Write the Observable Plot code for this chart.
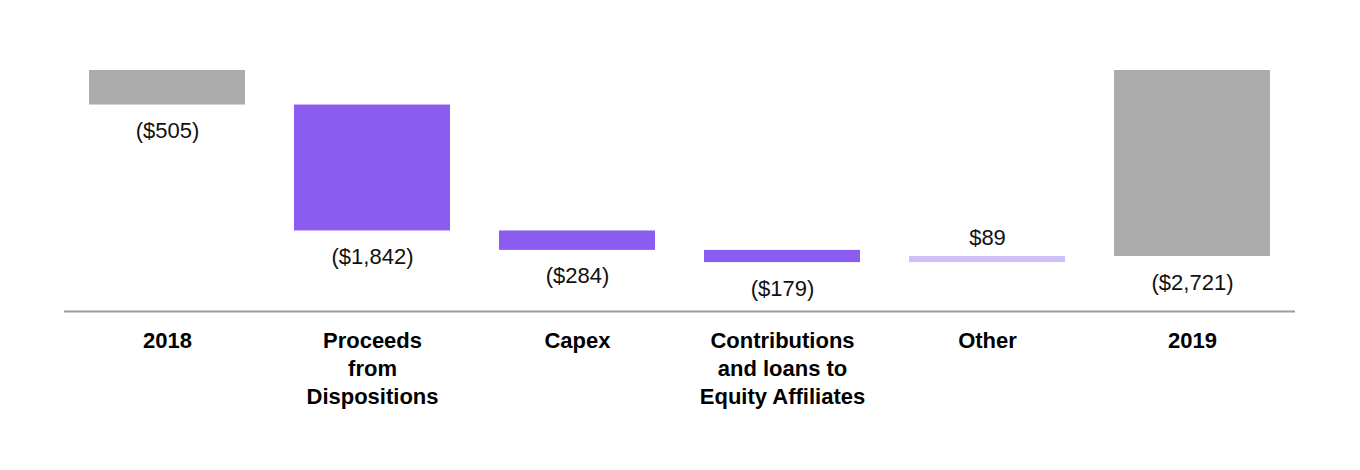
<!DOCTYPE html>
<html>
<head>
<meta charset="utf-8">
<script src="https://cdn.jsdelivr.net/npm/d3@7"></script>
<script src="https://cdn.jsdelivr.net/npm/@observablehq/plot@0.6"></script>
<style>
  html, body { margin: 0; padding: 0; background: #fff; }
  #chart svg { display: block; font-family: "Liberation Sans", Arial, sans-serif; }
</style>
</head>
<body>
<div id="chart"></div>
<script>
const categories = ["2018", "Proceeds\nfrom\nDispositions", "Capex", "Contributions\nand loans to\nEquity Affiliates", "Other", "2019"];
const values = [-505, -1842, -284, -179, 89, -2721];
const kinds = ["total", "delta", "delta", "delta", "delta", "total"];
const labels = ["($505)", "($1,842)", "($284)", "($179)", "$89", "($2,721)"];

const colors = { total: "#ababab", neg: "#8b5cf0", pos: "#cfbff7" };

let running = 0;
const rows = categories.map((c, i) => {
  let start, end;
  if (kinds[i] === "total") { start = 0; end = values[i]; running = values[i]; }
  else { start = running; end = running + values[i]; running = end; }
  const color = kinds[i] === "total" ? colors.total : (values[i] < 0 ? colors.neg : colors.pos);
  return { cat: c, start, end, value: values[i], label: labels[i], color,
           lo: Math.min(start, end), hi: Math.max(start, end) };
});

const chart = Plot.plot({
  width: 1360,
  height: 470,
  marginTop: 70,
  marginBottom: 159,
  marginLeft: 64,
  marginRight: 65,
  style: { fontFamily: "Liberation Sans, Arial, sans-serif", background: "#fff" },
  x: { domain: categories, paddingInner: 0.24, paddingOuter: 0.117, axis: null },
  y: { domain: [-3525, 0], axis: null },
  marks: [
    Plot.barY(rows, { x: "cat", y1: "start", y2: "end", fill: "color" }),
    Plot.ruleY([-3525], { stroke: "#9c9c9c", strokeWidth: 2 }),
    Plot.text(rows.filter(d => d.value < 0), { x: "cat", y: "lo", text: "label", dy: 26, fontSize: 22, fill: "#111", lineAnchor: "middle" }),
    Plot.text(rows.filter(d => d.value >= 0), { x: "cat", y: "hi", text: "label", dy: -19, fontSize: 22, fill: "#111", lineAnchor: "middle" }),
    Plot.axisX({ anchor: "bottom", tickSize: 0, tickPadding: 17, fontSize: 22, fontWeight: "bold", fill: "#000", lineHeight: 1.27, label: null })
  ]
});
document.getElementById("chart").appendChild(chart);
</script>
</body>
</html>
